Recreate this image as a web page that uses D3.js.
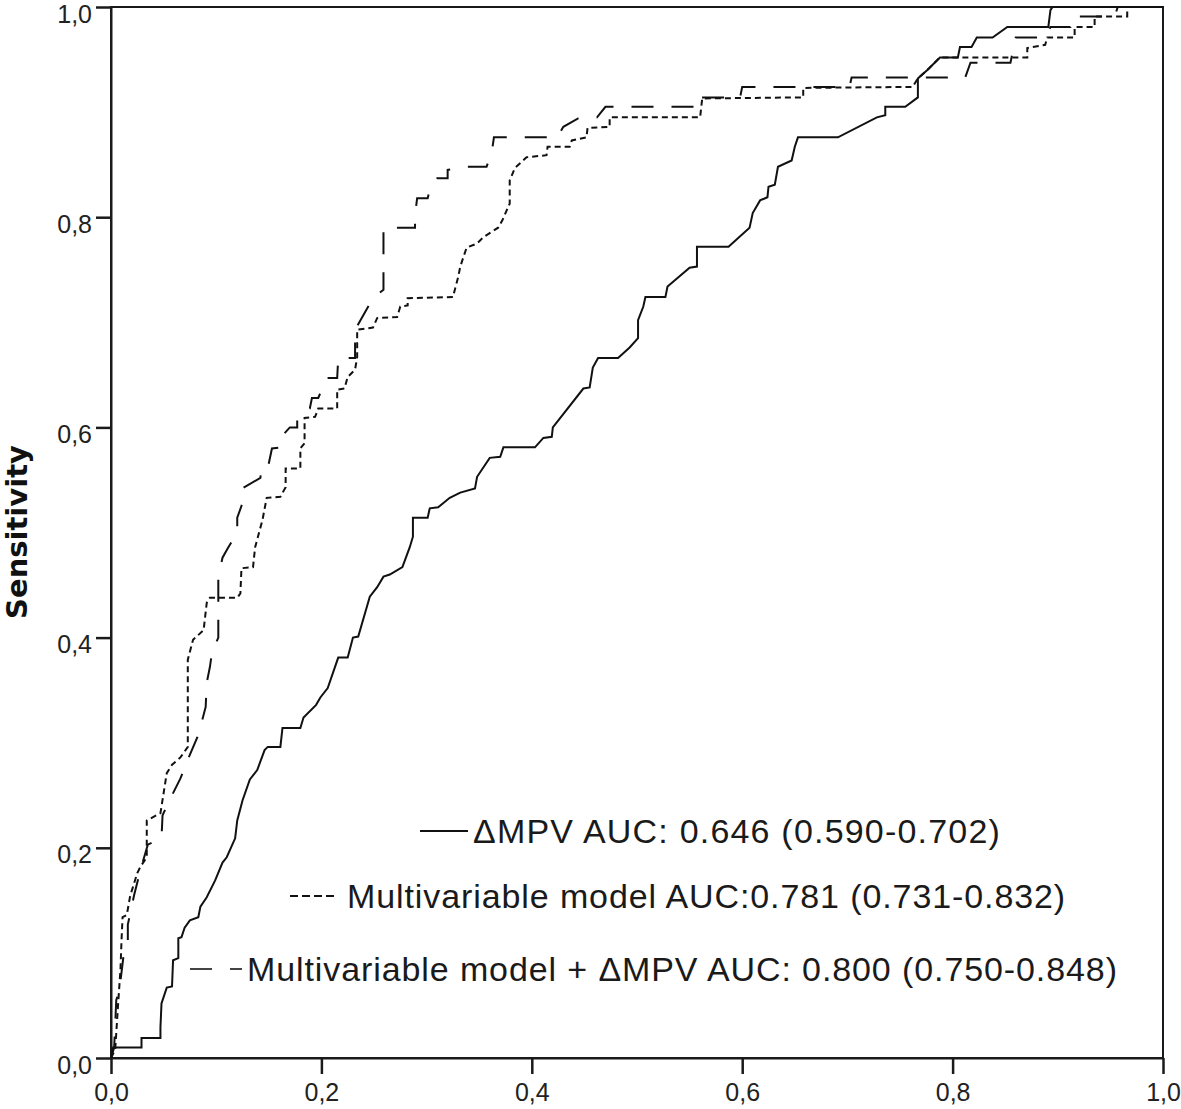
<!DOCTYPE html>
<html>
<head>
<meta charset="utf-8">
<script src="https://cdn.jsdelivr.net/npm/d3@7"></script>
<style>
  body { margin: 0; background: #fff; }
  svg { display: block; }
</style>
</head>
<body>
<div id="chart"></div>
<script>
// ROC points: [1 - specificity, sensitivity]
const mpvPoints = [[0,0],[0.002,0.010],[0.029,0.010],[0.029,0.019],[0.047,0.019],[0.047,0.029],[0.048,0.052],[0.053,0.067],[0.058,0.068],[0.059,0.093],[0.064,0.095],[0.064,0.114],[0.067,0.115],[0.070,0.124],[0.075,0.131],[0.083,0.134],[0.085,0.144],[0.091,0.153],[0.099,0.169],[0.106,0.186],[0.110,0.191],[0.118,0.209],[0.120,0.226],[0.125,0.245],[0.132,0.265],[0.139,0.274],[0.146,0.293],[0.149,0.296],[0.161,0.296],[0.163,0.314],[0.180,0.314],[0.183,0.324],[0.195,0.336],[0.199,0.343],[0.206,0.352],[0.216,0.381],[0.225,0.381],[0.230,0.400],[0.235,0.401],[0.246,0.439],[0.253,0.448],[0.259,0.458],[0.265,0.460],[0.277,0.467],[0.284,0.486],[0.287,0.496],[0.287,0.514],[0.301,0.514],[0.303,0.523],[0.311,0.524],[0.322,0.533],[0.332,0.538],[0.346,0.542],[0.348,0.553],[0.360,0.571],[0.370,0.572],[0.373,0.581],[0.403,0.581],[0.411,0.590],[0.419,0.591],[0.420,0.600],[0.449,0.637],[0.455,0.638],[0.458,0.657],[0.463,0.666],[0.482,0.666],[0.493,0.676],[0.501,0.685],[0.501,0.702],[0.506,0.715],[0.508,0.724],[0.527,0.724],[0.529,0.734],[0.550,0.752],[0.557,0.753],[0.557,0.772],[0.587,0.772],[0.607,0.790],[0.610,0.804],[0.617,0.816],[0.624,0.819],[0.625,0.829],[0.631,0.831],[0.634,0.848],[0.647,0.854],[0.650,0.867],[0.653,0.876],[0.691,0.876],[0.728,0.895],[0.736,0.897],[0.736,0.905],[0.755,0.905],[0.767,0.914],[0.767,0.932],[0.776,0.940],[0.788,0.952],[0.805,0.952],[0.807,0.962],[0.818,0.962],[0.823,0.971],[0.838,0.971],[0.852,0.981],[0.891,0.981],[0.893,0.997],[0.895,1],[1,1]]

const multiPoints = [[0,0],[0.004,0.008],[0.007,0.055],[0.009,0.084],[0.010,0.112],[0.011,0.134],[0.015,0.136],[0.018,0.153],[0.020,0.160],[0.025,0.176],[0.028,0.182],[0.034,0.191],[0.034,0.226],[0.047,0.233],[0.053,0.271],[0.058,0.279],[0.066,0.286],[0.073,0.296],[0.073,0.379],[0.078,0.398],[0.088,0.407],[0.091,0.433],[0.094,0.438],[0.120,0.438],[0.123,0.442],[0.124,0.466],[0.135,0.467],[0.137,0.486],[0.144,0.512],[0.148,0.533],[0.161,0.534],[0.166,0.543],[0.166,0.561],[0.180,0.561],[0.180,0.580],[0.184,0.585],[0.184,0.609],[0.194,0.610],[0.197,0.618],[0.215,0.618],[0.215,0.636],[0.222,0.637],[0.225,0.648],[0.232,0.655],[0.234,0.667],[0.234,0.693],[0.249,0.695],[0.253,0.704],[0.272,0.705],[0.275,0.715],[0.282,0.716],[0.282,0.723],[0.325,0.724],[0.330,0.743],[0.332,0.753],[0.338,0.771],[0.348,0.775],[0.354,0.781],[0.368,0.790],[0.372,0.797],[0.379,0.813],[0.379,0.835],[0.384,0.847],[0.395,0.857],[0.414,0.859],[0.415,0.867],[0.436,0.867],[0.438,0.873],[0.452,0.876],[0.453,0.885],[0.474,0.886],[0.474,0.895],[0.560,0.895],[0.562,0.913],[0.658,0.914],[0.658,0.923],[0.762,0.924],[0.767,0.932],[0.778,0.942],[0.788,0.952],[0.871,0.952],[0.871,0.961],[0.888,0.964],[0.890,0.971],[0.916,0.971],[0.916,0.981],[0.935,0.981],[0.935,0.991],[0.966,0.991],[0.966,1],[1,1]]

const comboPoints = [[0,0],[0.003,0.010],[0.005,0.055],[0.008,0.065],[0.012,0.098],[0.016,0.108],[0.016,0.127],[0.022,0.155],[0.028,0.179],[0.035,0.203],[0.048,0.209],[0.049,0.231],[0.058,0.250],[0.066,0.266],[0.073,0.284],[0.082,0.305],[0.085,0.315],[0.090,0.334],[0.091,0.357],[0.094,0.372],[0.096,0.386],[0.102,0.400],[0.102,0.458],[0.106,0.476],[0.111,0.485],[0.120,0.500],[0.120,0.514],[0.125,0.528],[0.125,0.542],[0.142,0.552],[0.143,0.561],[0.149,0.561],[0.153,0.580],[0.161,0.581],[0.161,0.590],[0.170,0.600],[0.177,0.600],[0.177,0.609],[0.189,0.618],[0.191,0.628],[0.197,0.628],[0.203,0.642],[0.205,0.647],[0.215,0.647],[0.216,0.666],[0.232,0.666],[0.232,0.693],[0.244,0.714],[0.249,0.723],[0.259,0.731],[0.259,0.790],[0.289,0.790],[0.289,0.802],[0.291,0.818],[0.301,0.818],[0.303,0.826],[0.310,0.837],[0.320,0.837],[0.320,0.845],[0.336,0.848],[0.357,0.848],[0.362,0.862],[0.364,0.876],[0.424,0.876],[0.430,0.886],[0.444,0.894],[0.462,0.895],[0.470,0.905],[0.560,0.905],[0.560,0.914],[0.598,0.914],[0.600,0.924],[0.702,0.924],[0.704,0.933],[0.812,0.933],[0.817,0.947],[0.855,0.947],[0.860,0.971],[0.888,0.971],[0.893,0.981],[0.912,0.981],[0.914,0.991],[0.954,0.991],[0.957,1],[1,1]]

const seriesLabels = ['\u0394MPV AUC: 0.646 (0.590-0.702)', 'Multivariable model AUC:0.781 (0.731-0.832)', 'Multivariable model + \u0394MPV AUC: 0.800 (0.750-0.848)']
const tickValues = [0, 0.2, 0.4, 0.6, 0.8, 1.0]
const yTitle = 'Sensitivity'

const width = 1181
const height = 1109
const plotLeft = 111, plotRight = 1163, plotTop = 7, plotBottom = 1058

const svg = d3.select('#chart').append('svg').attr('width', width).attr('height', height)
svg.append('rect').attr('width', width).attr('height', height).attr('fill', '#fff')

const x = d3.scaleLinear().domain([0, 1]).range([plotLeft, plotRight])
const y = d3.scaleLinear().domain([0, 1]).range([plotBottom, plotTop])
const fmt = d => d.toFixed(1).replace('.', ',')

// frame
svg.append('rect').attr('x', plotLeft).attr('y', plotTop).attr('width', plotRight - plotLeft).attr('height', plotBottom - plotTop)
    .attr('fill', 'none').attr('stroke', '#1a1a1a').attr('stroke-width', 2)

const yAxis = svg.append('g').attr('transform', `translate(${plotLeft},0)`)
    .call(d3.axisLeft(y).tickValues(tickValues).tickFormat(fmt).tickSize(15).tickSizeOuter(0).tickPadding(4))
const xAxis = svg.append('g').attr('transform', `translate(0,${plotBottom})`)
    .call(d3.axisBottom(x).tickValues(tickValues).tickFormat(fmt).tickSize(16).tickSizeOuter(0).tickPadding(9))

;[yAxis, xAxis].forEach(g => {
    g.select('.domain').attr('stroke', '#1a1a1a').attr('stroke-width', 2)
    g.selectAll('.tick line').attr('stroke', '#1a1a1a').attr('stroke-width', 2.5)
    g.selectAll('.tick text').attr('font-family', '"Liberation Sans", Arial, sans-serif').attr('font-size', 25).attr('fill', '#222')
})
yAxis.selectAll('.tick text').attr('dy', '0.6em')

svg.append('text').text(yTitle)
    .attr('transform', `translate(27,532) rotate(-90)`)
    .attr('text-anchor', 'middle')
    .attr('font-family', '"DejaVu Sans", Verdana, sans-serif').attr('font-weight', 'bold').attr('font-size', 29)
    .attr('fill', '#111')

const line = d3.line().x(d => x(d[0])).y(d => y(d[1]))

const styles = [
    { data: mpvPoints, dash: null, legendDash: null },
    { data: multiPoints, dash: '6,4', legendDash: '8,4' },
    { data: comboPoints, dash: '22,18', legendDash: '22,18' }
]

styles.forEach(s => {
    svg.append('path').datum(s.data).attr('d', line)
        .attr('fill', 'none').attr('stroke', '#111').attr('stroke-width', 2)
        .attr('stroke-dasharray', s.dash)
})

// legend
const legendPos = [{ x1: 420, x2: 468, y: 831, tx: 473 }, { x1: 290, x2: 338, y: 896, tx: 347 }, { x1: 190, x2: 242, y: 969, tx: 247 }]
seriesLabels.forEach((label, i) => {
    const p = legendPos[i]
    svg.append('line').attr('x1', p.x1).attr('x2', p.x2).attr('y1', p.y).attr('y2', p.y)
        .attr('stroke', i === 2 ? '#444' : '#111').attr('stroke-width', 2)
        .attr('stroke-dasharray', styles[i].legendDash)
    svg.append('text').text(label).attr('x', p.tx).attr('y', p.y + 12)
        .attr('font-family', '"Liberation Sans", Arial, sans-serif').attr('font-size', 34)
        .attr('letter-spacing', i === 0 ? 1.2 : 0.9).attr('fill', '#1a1a1a')
})
</script>
</body>
</html>
